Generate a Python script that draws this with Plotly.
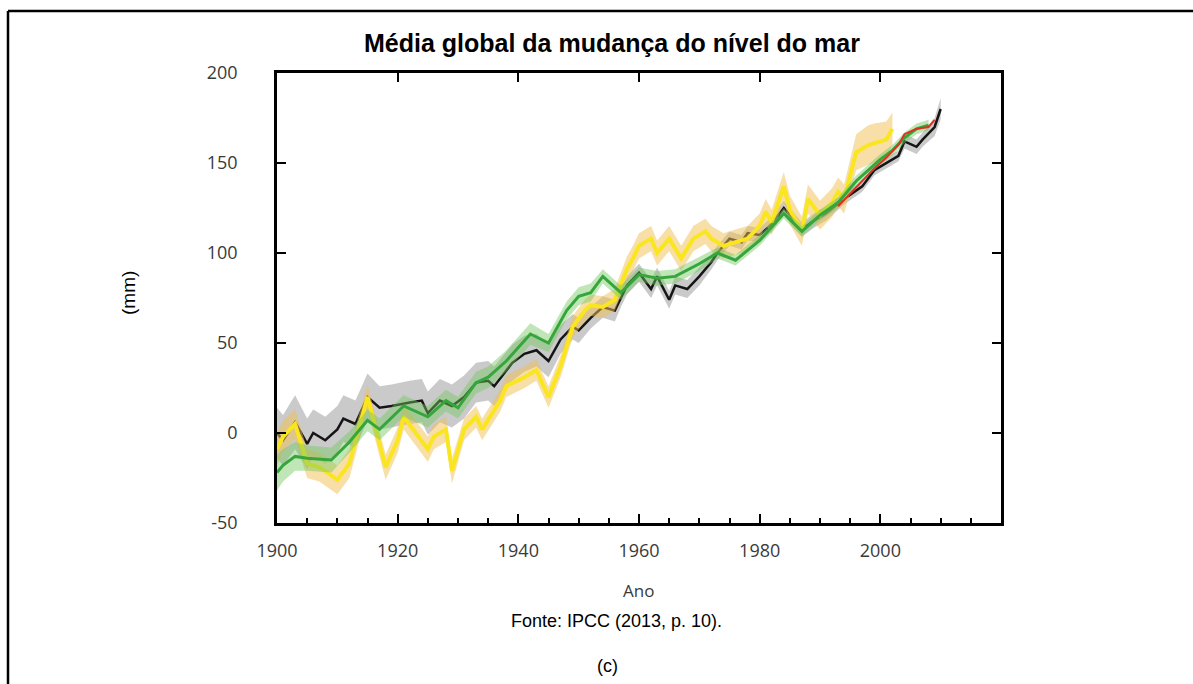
import plotly.graph_objects as go

# ---------------- data ----------------
black_years = [1900, 1901, 1903, 1905, 1906, 1908, 1910, 1911, 1913, 1915,
               1917, 1919, 1922, 1924, 1925, 1927, 1929, 1931, 1933, 1935,
               1936, 1939, 1941, 1943, 1945, 1947, 1949, 1950, 1952, 1954,
               1956, 1957, 1958, 1960, 1962, 1963, 1965, 1966, 1968, 1970,
               1972, 1973, 1975, 1977, 1978, 1980, 1982, 1984, 1987, 1989,
               1991, 1994, 1997, 1999, 2001, 2003, 2004, 2006, 2007, 2009,
               2010]
black_mm = [0, -4, 6, -6, 0, -4, 2, 8, 5, 20,
            14, 15, 17, 18, 11, 18, 15, 20, 28, 29,
            26, 39, 44, 46, 40, 52, 59, 57, 64, 70,
            68, 75, 82, 89, 80, 87, 74, 82, 80, 87,
            95, 100, 108, 106, 111, 110, 116, 125, 113, 118,
            122, 130, 137, 146, 150, 154, 162, 159, 163, 170,
            180]
black_err = [14, 14, 15, 14, 13, 13, 13, 13, 13, 13,
             12, 12, 12, 12, 12, 12, 12, 12, 11, 11,
             11, 10, 10, 9, 9, 8, 7, 7, 6, 6,
             6, 5, 5, 5, 5, 5, 5, 5, 5, 5,
             4, 4, 4, 4, 4, 4, 4, 4, 4, 4,
             4, 3, 3, 3, 3, 3, 4, 4, 4, 5,
             6]

yellow_years = [1900, 1901, 1903, 1905, 1907, 1908, 1910, 1912, 1915, 1918,
                1920, 1921, 1923, 1925, 1926, 1928, 1929, 1931, 1933, 1934,
                1937, 1938, 1941, 1943, 1945, 1947, 1949, 1951, 1952, 1954,
                1956, 1958, 1959, 1960, 1962, 1963, 1965, 1967, 1969, 1971,
                1972, 1974, 1976, 1978, 1980, 1981, 1982, 1984, 1985, 1987,
                1988, 1990, 1992, 1993, 1994, 1996, 1998, 1999, 2001, 2002]
yellow_mm = [-9, -2, 5, -17, -19, -21, -26, -17, 20, -19,
             -4, 9, 0, -9, -2, 2, -21, 2, 9, 2,
             18, 26, 31, 35, 20, 37, 59, 68, 71, 70,
             74, 91, 97, 104, 108, 100, 108, 97, 108, 112,
             108, 104, 106, 108, 115, 123, 117, 137, 124, 112,
             130, 121, 128, 134, 130, 156, 160, 161, 163, 169]
yellow_err = [9, 9, 8, 8, 8, 8, 8, 8, 7, 7,
              7, 7, 7, 7, 7, 7, 7, 6, 6, 6,
              6, 6, 6, 6, 6, 6, 6, 6, 6, 6,
              6, 7, 7, 7, 7, 7, 7, 7, 7, 7,
              7, 7, 7, 7, 7, 7, 7, 8, 8, 8,
              8, 8, 8, 8, 8, 10, 11, 11, 10, 9]

green_years = [1900, 1901, 1903, 1905, 1909, 1912, 1915, 1917, 1921, 1925,
               1928, 1930, 1933, 1935, 1938, 1942, 1945, 1948, 1950, 1952,
               1954, 1957, 1960, 1963, 1966, 1970, 1973, 1976, 1980, 1984,
               1987, 1990, 1993, 1996, 2000, 2002, 2004, 2006, 2008]
green_mm = [-22, -18, -13, -14, -15, -5, 7, 2, 15, 9,
            18, 14, 28, 31, 40, 55, 50, 68, 76, 78,
            87, 78, 88, 86, 87, 94, 100, 96, 107, 122,
            112, 121, 128, 140, 152, 157, 164, 169, 171]
green_err = [10, 9, 8, 7, 7, 6, 6, 6, 6, 6,
             6, 6, 6, 6, 6, 6, 5, 5, 5, 5,
             4, 4, 4, 4, 4, 4, 3, 3, 3, 3,
             3, 3, 3, 3, 3, 3, 3, 3, 3]

red_years = [1993, 1995, 1997, 1999, 2001, 2003, 2004, 2006, 2008, 2009]
red_mm = [126, 133, 140, 147, 153, 160, 166, 169, 170, 174]

x_tick_vals = [1900, 1920, 1940, 1960, 1980, 2000]
x_tick_text = ["1900", "1920", "1940", "1960", "1980", "2000"]
y_tick_vals = [-50, 0, 50, 100, 150, 200]
y_tick_text = ["-50", "0", "50", "100", "150", "200"]

title_text = "<b>Média global da mudança do nível do mar</b>"
y_title = "(mm)"
x_title = "Ano"
source_text = "Fonte: IPCC (2013, p. 10)."
panel_text = "(c)"

# ---------------- layout geometry (pixels) ----------------
W, H = 1193, 684
PX0, PX1, PY0, PY1 = 277, 1001, 73, 523


def fx(px):
    return (px - PX0) / (PX1 - PX0)


def fy(py):
    return (PY1 - py) / (PY1 - PY0)


def band(years, vals, err, color):
    up = [v + e for v, e in zip(vals, err)]
    lo = [v - e for v, e in zip(vals, err)]
    return go.Scatter(x=list(years) + list(years)[::-1], y=up + lo[::-1],
                      fill="toself", fillcolor=color, mode="lines",
                      line=dict(width=0), hoverinfo="skip", showlegend=False)


fig = go.Figure()
fig.add_trace(band(black_years, black_mm, black_err, "rgba(150,150,150,0.5)"))
fig.add_trace(go.Scatter(x=black_years, y=black_mm, mode="lines",
                         line=dict(color="#151515", width=2.5), showlegend=False))
fig.add_trace(band(yellow_years, yellow_mm, yellow_err, "rgba(242,190,80,0.5)"))
fig.add_trace(go.Scatter(x=yellow_years, y=yellow_mm, mode="lines",
                         line=dict(color="#fae61e", width=4), showlegend=False))
fig.add_trace(band(green_years, green_mm, green_err, "rgba(115,200,95,0.45)"))
fig.add_trace(go.Scatter(x=green_years, y=green_mm, mode="lines",
                         line=dict(color="#35a63c", width=3), showlegend=False))
fig.add_trace(go.Scatter(x=red_years, y=red_mm, mode="lines",
                         line=dict(color="#e0301e", width=2), showlegend=False))
# helper trace so the top tick axis is drawn
fig.add_trace(go.Scatter(x=[None], y=[None], xaxis="x2", yaxis="y",
                         showlegend=False, hoverinfo="skip"))

tick_font = dict(family="Open Sans, sans-serif", size=18, color="#3a3a3a")

fig.update_layout(
    width=W, height=H,
    margin=dict(l=PX0, r=W - PX1, t=PY0, b=H - PY1, pad=0),
    paper_bgcolor="white", plot_bgcolor="white", showlegend=False,
    xaxis=dict(range=[1900, 2020], tickmode="array", tickvals=x_tick_vals, ticktext=x_tick_text,
               ticks="inside", ticklen=9, tickwidth=2, tickcolor="black",
               showline=True, linecolor="black", linewidth=2.5, mirror=True,
               showgrid=False, zeroline=False, tickfont=tick_font, ticklabelstandoff=10,
               minor=dict(ticks="inside", tick0=1900, dtick=5, ticklen=5, tickwidth=2,
                          tickcolor="black", showgrid=False)),
    xaxis2=dict(range=[1900, 2020], overlaying="x", side="top", tickmode="array",
                tickvals=[1920, 1940, 1960, 1980, 2000], ticks="inside", ticklen=9,
                tickwidth=2, tickcolor="black", showticklabels=False, showline=False,
                showgrid=False, zeroline=False),
    yaxis=dict(range=[-50, 200], tickmode="array", tickvals=y_tick_vals, ticktext=y_tick_text,
               ticks="inside", ticklen=9, tickwidth=2, tickcolor="black",
               showline=True, linecolor="black", linewidth=2.5, mirror="ticks",
               showgrid=False, zeroline=False, tickfont=tick_font, ticklabelstandoff=33),
    shapes=[
        dict(type="line", xref="paper", yref="paper", x0=fx(8), x1=fx(1193), y0=fy(11), y1=fy(11),
             line=dict(color="black", width=2.5)),
        dict(type="line", xref="paper", yref="paper", x0=fx(8), x1=fx(8), y0=fy(11), y1=fy(684),
             line=dict(color="black", width=2.5)),
    ],
    annotations=[
        dict(text=title_text, xref="paper", yref="paper", x=fx(612), y=fy(43), showarrow=False,
             xanchor="center", yanchor="middle",
             font=dict(family="Liberation Sans, Arial, sans-serif", size=25, color="black")),
        dict(text=y_title, xref="paper", yref="paper", x=fx(128), y=fy(293), showarrow=False,
             textangle=-90, xanchor="center", yanchor="middle",
             font=dict(family="Liberation Sans, Arial, sans-serif", size=19, color="black")),
        dict(text=x_title, xref="paper", yref="paper", x=fx(638), y=fy(590), showarrow=False,
             xanchor="center", yanchor="middle",
             font=dict(family="Open Sans, sans-serif", size=17, color="#3a3a3a")),
        dict(text=source_text, xref="paper", yref="paper", x=fx(616), y=fy(621), showarrow=False,
             xanchor="center", yanchor="middle",
             font=dict(family="Liberation Sans, Arial, sans-serif", size=18, color="black")),
        dict(text=panel_text, xref="paper", yref="paper", x=fx(607), y=fy(666), showarrow=False,
             xanchor="center", yanchor="middle",
             font=dict(family="Liberation Sans, Arial, sans-serif", size=18, color="black")),
    ],
)

fig.write_html("out.html")
